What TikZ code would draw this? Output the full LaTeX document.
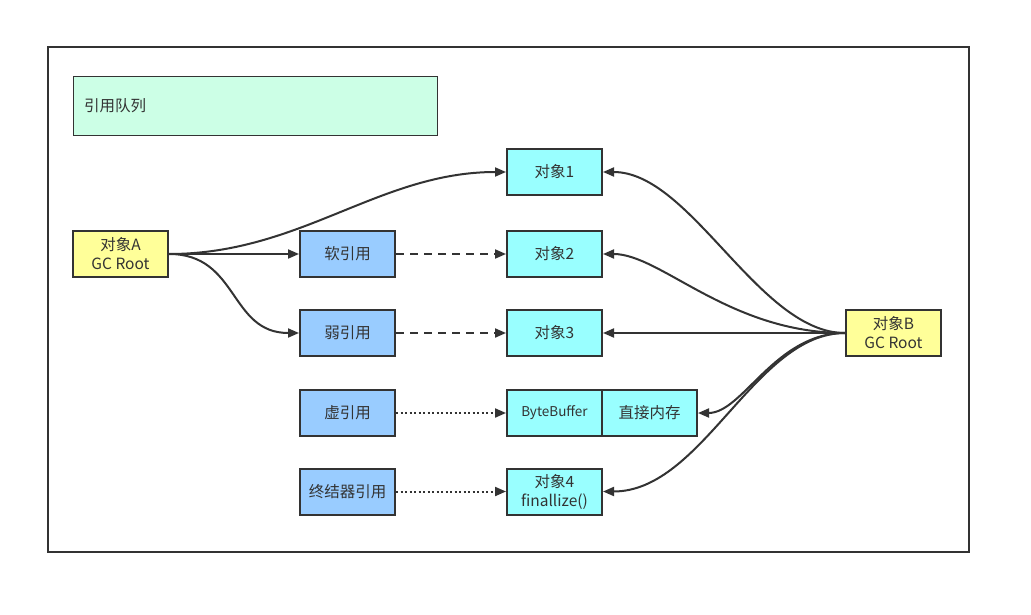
\documentclass[tikz,border=0pt]{standalone}
\usepackage{fontspec}
\setmainfont{Noto Sans CJK SC}
\usetikzlibrary{arrows.meta}
\definecolor{ink}{HTML}{333333}
\definecolor{rootfill}{HTML}{FFFF99}
\definecolor{reffill}{HTML}{99CCFF}
\definecolor{objfill}{HTML}{99FFFF}
\definecolor{queuefill}{HTML}{CCFFE6}
\begin{document}
\begin{tikzpicture}[x=1pt,y=-1pt,
  box/.style={draw=ink,line width=2pt,minimum width=95pt,minimum height=46pt,inner sep=0pt,
    align=center,text=ink,font=\fontsize{15.5}{19}\selectfont},
  rootbox/.style={box,fill=rootfill},
  refbox/.style={box,fill=reffill},
  objbox/.style={box,fill=objfill},
  link/.style={draw=ink,line width=2pt,-{Triangle[length=11pt,width=9pt]}},
  softlink/.style={link,dash pattern=on 8pt off 6pt},
  dotlink/.style={link,dash pattern=on 2pt off 2.5pt}]
\useasboundingbox (0,0) rectangle (1031,615);
\fill[white] (0,0) rectangle (1031,615);
% frame and reference queue
\draw[ink,line width=1.5pt] (48,47) rectangle (969,552);
\draw[ink,line width=1pt,fill=queuefill] (73,77) rectangle (437,136);
\node[anchor=west,text=ink,font=\fontsize{15.5}{19}\selectfont,inner sep=0pt] (queue) at (84,106) {引用队列};
% roots
\node[rootbox] (A) at (120.5,254) {对象A\\GC Root};
\node[rootbox] (B) at (893.5,333) {对象B\\GC Root};
% references
\node[refbox] (soft) at (347.5,254) {软引用};
\node[refbox] (weak) at (347.5,333) {弱引用};
\node[refbox] (phantom) at (347.5,413) {虚引用};
\node[refbox] (final) at (347.5,491.5) {终结器引用};
% objects
\node[objbox] (o1) at (554.5,172) {对象1};
\node[objbox] (o2) at (554.5,254) {对象2};
\node[objbox] (o3) at (554.5,333) {对象3};
\node[objbox,font=\fontsize{13.5}{17}\selectfont] (bb) at (554.5,413) {ByteBuffer};
\node[objbox] (mem) at (649.5,413) {直接内存};
\node[objbox] (o4) at (554.5,491.5) {对象4\\finallize()};
% strong references from A
\draw[link] (A.east) .. controls +(132,0) and +(-127,0) .. (o1.west);
\draw[link] (A.east) -- (soft.west);
\draw[link] (A.east) .. controls +(70,0) and +(-70,0) .. (weak.west);
% reference objects to referents
\draw[softlink] (soft.east) -- (o2.west);
\draw[softlink] (weak.east) -- (o3.west);
\draw[dotlink] (phantom.east) -- (bb.west);
\draw[dotlink] (final.east) -- (o4.west);
% strong references from B
\draw[link] (B.west) .. controls +(-86,0) and +(88,0) .. (o1.east);
\draw[link] (B.west) .. controls +(-116,0) and +(58,0) .. (o2.east);
\draw[link] (B.west) -- (o3.east);
\draw[link] (B.west) .. controls +(-70,0) and +(45,0) .. (mem.east);
\draw[link] (B.west) .. controls +(-90,0) and +(100,0) .. (o4.east);
\end{tikzpicture}
\end{document}
